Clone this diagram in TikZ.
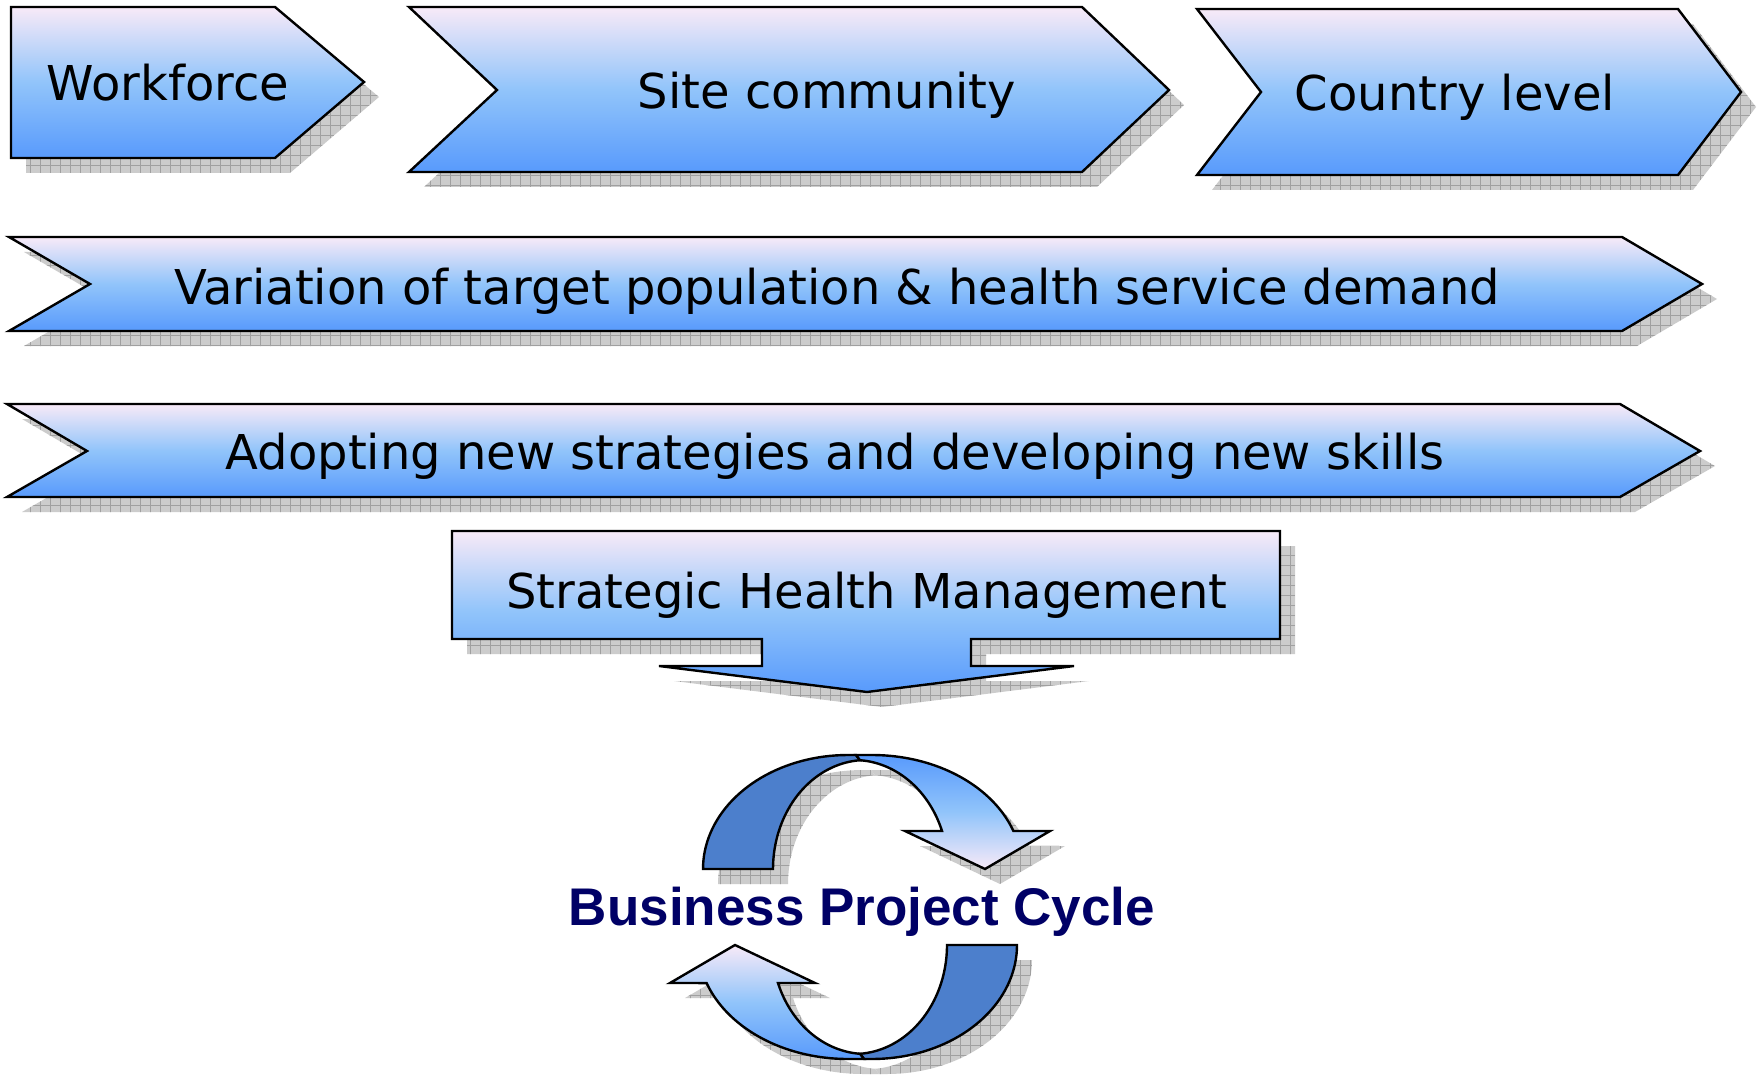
\documentclass[tikz,border=0pt]{standalone}
\usepackage{fontspec}
\setmainfont{DejaVu Sans}
\newfontfamily\bpcfont{Liberation Sans}
\usetikzlibrary{patterns.meta}
\definecolor{topc}{RGB}{248,234,248}
\definecolor{midc}{RGB}{145,196,250}
\definecolor{botc}{RGB}{88,154,252}
\definecolor{darkband}{RGB}{76,127,204}
\definecolor{shadowgray}{RGB}{204,204,204}
\definecolor{shadowline}{RGB}{160,160,160}
\definecolor{navytext}{RGB}{0,0,102}
\newcommand\ShpWork[1]{\path[#1] (11,7) -- (275,7) -- (364,82) -- (275,158) -- (11,158) -- cycle;}
\newcommand\ShpSite[1]{\path[#1] (409,7) -- (1082,7) -- (1169,90) -- (1082,172) -- (409,172) -- (497,90) -- cycle;}
\newcommand\ShpCountry[1]{\path[#1] (1197,9) -- (1678,9) -- (1741,92) -- (1678,175) -- (1197,175) -- (1261,92) -- cycle;}
\newcommand\ShpVar[1]{\path[#1] (9,237) -- (1622,237) -- (1702,284) -- (1622,331) -- (9,331) -- (90,284) -- cycle;}
\newcommand\ShpAdopt[1]{\path[#1] (7,404) -- (1620,404) -- (1700,451) -- (1620,497) -- (7,497) -- (87,451) -- cycle;}
\newcommand\ShpSHM[1]{\path[#1] (452,531) -- (1280,531) -- (1280,639) -- (971,639) -- (971,666) -- (1074,666) -- (867,692) -- (659,666) -- (762,666) -- (762,639) -- (452,639) -- cycle;}
\newcommand\ShpUpDark[1]{\path[#1] plot[domain=180:270,samples=40,variable=\t] ({848+145*cos(\t)},{869+114*sin(\t)}) -- (856,755) -- plot[domain=266.3:180,samples=40,variable=\t] ({866+93*cos(\t)},{869+109*sin(\t)}) -- cycle;}
\newcommand\ShpUpLight[1]{\path[#1] (856,755) -- plot[domain=270:340.5,samples=40,variable=\t] ({872+150*cos(\t)},{869+114*sin(\t)}) -- (1050,831) -- (985,869) -- (905,831) -- plot[domain=339.6:273.7,samples=40,variable=\t] ({854+93.9*cos(\t)},{869+109*sin(\t)}) -- cycle;}
\newcommand\ShpLoDark[1]{\path[#1] plot[domain=0:90,samples=40,variable=\t] ({872+145*cos(\t)},{945+114*sin(\t)}) -- (864,1059) -- plot[domain=86.3:0,samples=40,variable=\t] ({854+93*cos(\t)},{945+109*sin(\t)}) -- cycle;}
\newcommand\ShpLoLight[1]{\path[#1] (864,1059) -- plot[domain=90:160.5,samples=40,variable=\t] ({848+150*cos(\t)},{945+114*sin(\t)}) -- (670,983) -- (735,945) -- (815,983) -- plot[domain=159.6:93.7,samples=40,variable=\t] ({866+93.9*cos(\t)},{945+109*sin(\t)}) -- cycle;}
\begin{document}
\begin{tikzpicture}[x=1pt,y=-1pt,
  shad/.style={shift={(15,15)},preaction={fill=shadowgray},
    pattern={Hatch[angle=0,distance=10pt,line width=0.8pt]},pattern color=shadowline},
  outl/.style={draw=black,line width=2.4pt,line join=miter},
  grad/.style={outl,top color=topc,bottom color=botc,middle color=midc},
  gradup/.style={outl,top color=botc,bottom color=topc,middle color=midc},
  darkfill/.style={outl,fill=darkband},
  lbl/.style={font=\fontsize{48}{58}\selectfont,inner sep=0pt,anchor=base,text=black},
  bpc/.style={font=\bpcfont\bfseries\fontsize{53}{62}\selectfont,inner sep=0pt,anchor=base,text=navytext}]
\useasboundingbox (0,0) rectangle (1758,1075);
\fill[white] (0,0) rectangle (1758,1075);
% shadows
\ShpWork{shad}
\ShpSite{shad}
\ShpCountry{shad}
\ShpVar{shad}
\ShpAdopt{shad}
\ShpSHM{shad}
\ShpUpDark{shad}
\ShpUpLight{shad}
\ShpLoDark{shad}
\ShpLoLight{shad}
% shapes
\ShpWork{grad}
\ShpSite{grad}
\ShpCountry{grad}
\ShpVar{grad}
\ShpAdopt{grad}
\ShpSHM{grad}
\ShpUpDark{darkfill}
\ShpUpLight{gradup}
\ShpLoDark{darkfill}
\ShpLoLight{grad}
% labels
\node[lbl] (work) at (168,101) {Workforce};
\node[lbl] (site) at (827,109) {Site community};
\node[lbl] (country) at (1455,111) {Country level};
\node[lbl] (var) at (837,304) {Variation of target population \& health service demand};
\node[lbl] (adopt) at (835,469) {Adopting new strategies and developing new skills};
\node[lbl] (shm) at (867,608) {Strategic Health Management};
\node[bpc] (cycle) at (862,925) {Business Project Cycle};
\end{tikzpicture}
\end{document}
